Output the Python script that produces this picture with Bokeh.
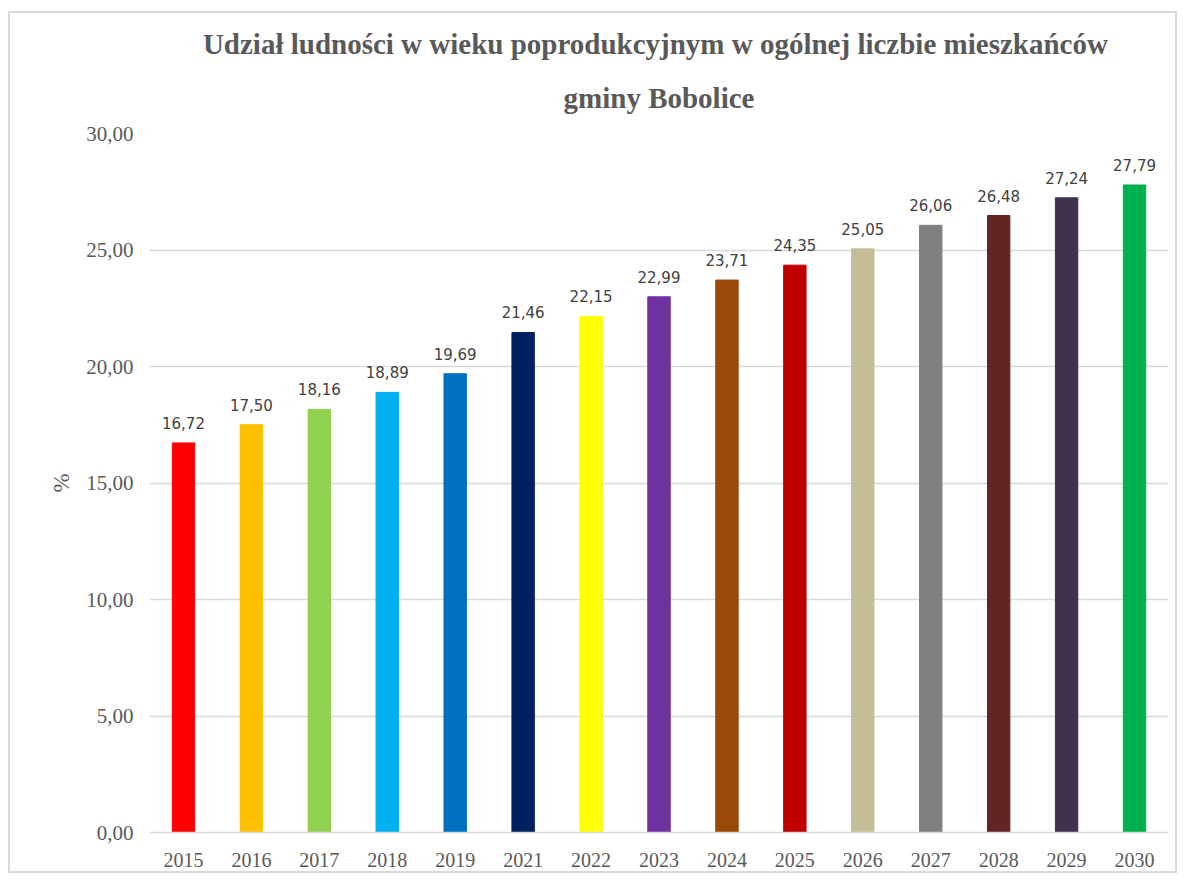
from bokeh.plotting import figure
from bokeh.models import ColumnDataSource, LabelSet, Title
from bokeh.core.properties import value
from bokeh.embed import file_html
from bokeh.resources import INLINE

years = ["2015", "2016", "2017", "2018", "2019", "2021", "2022", "2023",
         "2024", "2025", "2026", "2027", "2028", "2029", "2030"]
shares = [16.72, 17.50, 18.16, 18.89, 19.69, 21.46, 22.15, 22.99,
          23.71, 24.35, 25.05, 26.06, 26.48, 27.24, 27.79]
colors = ["#FF0000", "#FFC000", "#92D050", "#00B0F0", "#0070C0", "#002060",
          "#FFFF00", "#7030A0", "#984807", "#C00000", "#C4BD97", "#808080",
          "#632523", "#403151", "#00B050"]
y_ticks = [0, 5, 10, 15, 20, 25, 30]
title_lines = ["Udział ludności w wieku poprodukcyjnym w ogólnej liczbie  mieszkańców",
               "gminy Bobolice"]

labels = [f"{v:.2f}".replace(".", ",") for v in shares]
src = ColumnDataSource(dict(year=years, share=shares, color=colors, label=labels))

p = figure(x_range=years, y_range=(0, 30), width=1169, height=862,
           output_backend="svg", toolbar_location=None,
           min_border_left=139, min_border_right=11,
           min_border_top=120, min_border_bottom=43)
p.styles = {"border": "2px solid #d9d9d9", "margin-top": "11px", "margin-left": "8px",
            "box-sizing": "border-box"}

p.vbar(x="year", top="share", width=0.33, color="color", source=src)

p.add_layout(LabelSet(x="year", y="share", text="label", source=src,
                      text_align="center", text_baseline="bottom", y_offset=14,
                      text_font=value("DejaVu Sans"), text_font_size="15px",
                      text_color="#404040"))

# second line first (nearest to the plot), then first line above it
for line, standoff in zip(reversed(title_lines), [40, 0]):
    p.add_layout(Title(text=line, align="center", text_font="Liberation Serif",
                       text_font_size="29px", text_font_style="bold", text_color="#595959",
                       standoff=standoff), "above")

p.outline_line_color = None
p.xgrid.grid_line_color = None
p.ygrid.grid_line_color = "#d9d9d9"
p.ygrid.grid_line_width = 1.5

p.yaxis.ticker = y_ticks
p.yaxis.major_label_overrides = {t: f"{t:.2f}".replace(".", ",") for t in y_ticks}
p.yaxis.axis_line_color = None
p.yaxis.major_tick_line_color = None
p.yaxis.minor_tick_line_color = None
p.yaxis.major_label_standoff = 10
p.yaxis.major_label_text_font = "Liberation Serif"
p.yaxis.major_label_text_font_size = "21px"
p.yaxis.major_label_text_color = "#595959"
p.yaxis.axis_label = "%"
p.yaxis.axis_label_text_font = "Liberation Serif"
p.yaxis.axis_label_text_font_size = "23px"
p.yaxis.axis_label_text_font_style = "normal"
p.yaxis.axis_label_text_color = "#595959"
p.yaxis.axis_label_standoff = 9

p.xaxis.axis_line_color = "#d9d9d9"
p.xaxis.axis_line_width = 1.5
p.xaxis.major_tick_line_color = None
p.xaxis.minor_tick_line_color = None
p.xaxis.major_label_standoff = 14
p.xaxis.major_label_text_font = "Liberation Serif"
p.xaxis.major_label_text_font_size = "20px"
p.xaxis.major_label_text_color = "#595959"

open("out.html", "w").write(file_html(p, INLINE))
